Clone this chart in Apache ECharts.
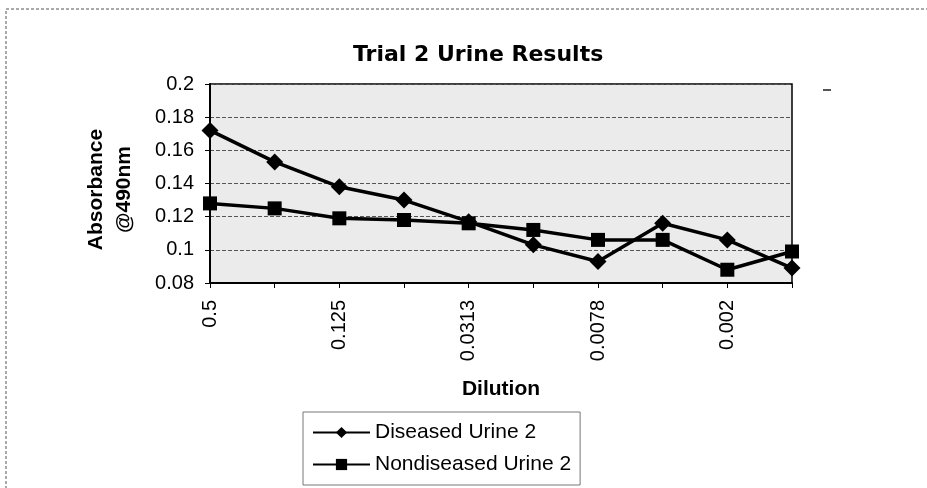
<!DOCTYPE html>
<html lang="en">
<head>
<meta charset="UTF-8">
<script src="https://cdn.jsdelivr.net/npm/echarts@6/dist/echarts.min.js"></script>
<title>Trial 2 Urine Results</title>
<style>
    html, body { margin: 0; padding: 0; background: #fff; }
    #chart { width: 927px; height: 488px; }
</style>
</head>
<body>
<div id="chart"></div>
<script>
    // dilution steps (only every other one is labelled on the axis)
    var dilutions = ['0.5', '0.25', '0.125', '0.0625', '0.0313', '0.0156', '0.0078', '0.0039', '0.002', '0.001'];
    var diseased = [0.172, 0.153, 0.138, 0.130, 0.117, 0.103, 0.093, 0.116, 0.106, 0.089];
    var nondiseased = [0.128, 0.125, 0.119, 0.118, 0.116, 0.112, 0.106, 0.106, 0.088, 0.099];
    var yMin = 0.08, yMax = 0.2, yStep = 0.02;

    var font = 'Liberation Sans, Arial, sans-serif';
    var chart = echarts.init(document.getElementById('chart'), null, {renderer: 'canvas'});

    chart.setOption({
        animation: false,
        backgroundColor: '#fff',
        graphic: [{
            // outer chart frame
            type: 'rect',
            shape: {x: 6, y: 9, width: 940, height: 500},
            style: {fill: 'none', stroke: '#555', lineWidth: 1, lineDash: [3, 2]}
        }, {
            // small stray mark right of the plot
            type: 'line',
            shape: {x1: 823, y1: 90, x2: 831, y2: 90},
            style: {stroke: '#555', lineWidth: 2}
        }],
        title: {
            text: 'Trial 2 Urine Results',
            left: 348,
            top: 39,
            textStyle: {fontFamily: 'DejaVu Sans', fontSize: 22, fontWeight: 'bold', color: '#000'}
        },
        legend: {
            orient: 'vertical',
            left: 303,
            top: 412,
            itemWidth: 57,
            itemHeight: 14,
            itemGap: 11,
            padding: [10, 9, 10, 9],
            borderColor: '#777',
            borderWidth: 1,
            textStyle: {fontFamily: font, fontSize: 21, color: '#000'},
            data: ['Diseased Urine 2', 'Nondiseased Urine 2']
        },
        grid: {
            left: 210,
            right: 135,
            top: 84,
            bottom: 205,
            show: true,
            backgroundColor: '#ebebeb',
            borderColor: '#000',
            borderWidth: 1.5
        },
        xAxis: {
            type: 'category',
            data: dilutions,
            boundaryGap: false,
            name: 'Dilution',
            nameLocation: 'middle',
            nameGap: 96,
            nameTextStyle: {fontFamily: font, fontSize: 21, fontWeight: 'bold', color: '#000'},
            axisLine: {lineStyle: {color: '#000', width: 2}},
            axisTick: {interval: 0, length: 5, lineStyle: {color: '#000'}},
            axisLabel: {interval: 1, rotate: 90, margin: 17, fontFamily: font, fontSize: 20, color: '#000'},
            splitLine: {show: false}
        },
        yAxis: {
            type: 'value',
            min: yMin,
            max: yMax,
            interval: yStep,
            name: 'Absorbance\n@490nm',
            nameLocation: 'middle',
            nameGap: 72,
            nameTextStyle: {
                fontFamily: font, fontSize: 21, fontWeight: 'bold', color: '#000',
                lineHeight: 28, padding: [0, 12, 0, 0]
            },
            axisLine: {show: true, lineStyle: {color: '#000', width: 2}},
            axisTick: {show: true, length: 5, lineStyle: {color: '#000'}},
            axisLabel: {margin: 16, fontFamily: font, fontSize: 20, color: '#000'},
            splitLine: {lineStyle: {color: '#555', type: 'dashed', width: 1}}
        },
        series: [{
            name: 'Diseased Urine 2',
            type: 'line',
            data: diseased,
            symbol: 'diamond',
            symbolSize: 17,
            color: '#000',
            lineStyle: {color: '#000', width: 3.5}
        }, {
            name: 'Nondiseased Urine 2',
            type: 'line',
            data: nondiseased,
            symbol: 'rect',
            symbolSize: 14,
            color: '#000',
            lineStyle: {color: '#000', width: 3.5}
        }]
    });
</script>
</body>
</html>
